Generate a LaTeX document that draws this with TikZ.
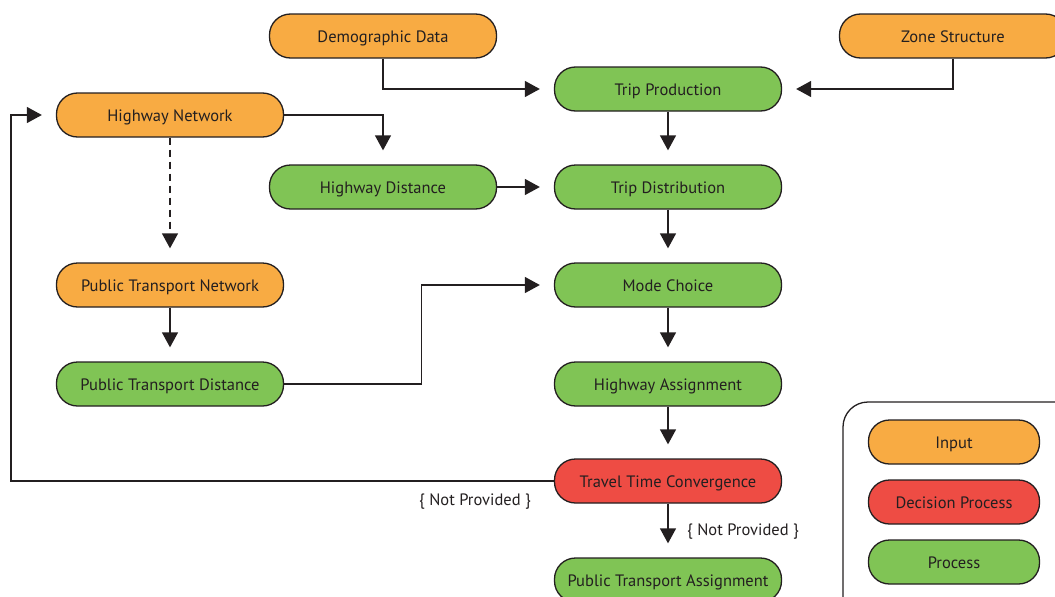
\documentclass[tikz,border=0pt]{standalone}
\usepackage{fontspec}
\setmainfont{PT Sans}
\usetikzlibrary{
    arrows.meta,
    positioning
}
\definecolor{inputcol}{HTML}{F8AB43}
\definecolor{processcol}{HTML}{80C455}
\definecolor{decisioncol}{HTML}{EE4C44}
\definecolor{edgecol}{HTML}{231F20}

\begin{document}
\begin{tikzpicture} [x=1pt, y=-1pt, font=\fontsize{16.5}{19}\selectfont,
    box/.style={rectangle,draw=edgecol,line width=1.3pt,rounded corners=21pt,
                inner sep=0pt,minimum width=227pt,minimum height=44pt,text=edgecol,
                text height=12pt,text depth=0pt},
    input/.style={box,fill=inputcol},
    process/.style={box,fill=processcol},
    decision/.style={box,fill=decisioncol},
    link/.style={draw=edgecol,line width=1.3pt,
                 -{Triangle[length=15pt,width=16pt]},shorten >=14pt},
    note/.style={text=edgecol,inner sep=0pt}
]
    \clip (0,0) rectangle (1055,597);

    % inputs
    \node[input]    (demographic)   at (383,36)  {Demographic Data};
    \node[input]    (zones)         at (953,36)  {Zone Structure};
    \node[input]    (highway net)   at (170,115) {Highway Network};
    \node[input]    (pt net)        at (170,285) {Public Transport Network};

    % processes
    \node[process]  (production)    at (668,89)  {Trip Production};
    \node[process]  (highway dist)  at (383,187) {Highway Distance};
    \node[process]  (distribution)  at (668,187) {Trip Distribution};
    \node[process]  (mode choice)   at (668,285) {Mode Choice};
    \node[process]  (pt dist)       at (170,384) {Public Transport Distance};
    \node[process]  (highway assign) at (668,384) {Highway Assignment};
    \node[decision] (convergence)   at (668,481) {Travel Time Convergence};
    \node[process]  (pt assign)     at (668,580) {Public Transport Assignment};

    % connectors
    \draw[link] (demographic.south) |- (production.west);
    \draw[link] (zones.south) |- (production.east);
    \draw[link] (highway net.east) -| (highway dist.north);
    \draw[link,dashed,dash pattern=on 7pt off 5pt] (highway net) -- (pt net);
    \draw[link] (production) -- (distribution);
    \draw[link] (highway dist) -- (distribution);
    \draw[link] (distribution) -- (mode choice);
    \draw[link] (pt net) -- (pt dist);
    \draw[link] (pt dist.east) -- ++(137,0) |- (mode choice.west);
    \draw[link] (mode choice) -- (highway assign);
    \draw[link] (highway assign) -- (convergence);
    \draw[link] (convergence.west) -- ++(-543,0) |- (highway net.west);
    \draw[link] (convergence) -- (pt assign);

    \node[note] (not left)  at (475,502) {\{ Not Provided \}};
    \node[note] (not below) at (743,532) {\{ Not Provided \}};

    % legend
    \draw[draw=edgecol,line width=1.3pt,rounded corners=25pt]
        (843,402) rectangle (1085,625);
    \node[input,minimum width=171pt]    (legend input)    at (954,442) {Input};
    \node[decision,minimum width=171pt] (legend decision) at (954,502) {Decision Process};
    \node[process,minimum width=171pt]  (legend process)  at (954,562) {Process};
\end{tikzpicture}
\end{document}
